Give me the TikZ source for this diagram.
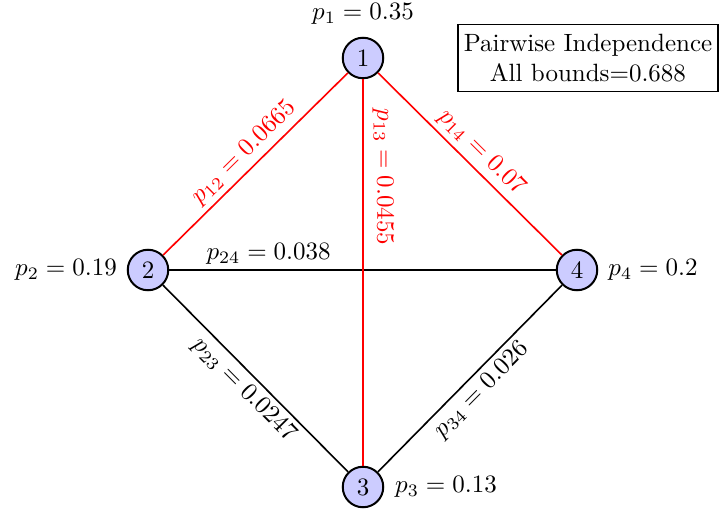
\documentclass[tikz,border=0pt]{standalone}
\begin{document}
\begin{tikzpicture}[x=0.4pt,y=-0.4pt,
  vert/.style={circle,draw,line width=0.8pt,fill=blue!20,minimum size=16.2pt,inner sep=0pt},
  redge/.style={red,line width=0.65pt},
  bedge/.style={black,line width=0.65pt},
  elab/.style={font=\normalsize,inner sep=2pt},
  infobox/.style={draw,line width=0.6pt,align=center,inner sep=2pt,minimum width=104pt,minimum height=26.8pt}]
\useasboundingbox (0,0) rectangle (720,512);
\node[vert] (n1) at (363,58) {1};
\node[vert] (n2) at (148,270) {2};
\node[vert] (n3) at (363,487) {3};
\node[vert] (n4) at (577,270) {4};
\node (l1) at (363,14) {$p_1 = 0.35$};
\node (l2) at (66,270) {$p_2 = 0.19$};
\node (l3) at (446,487) {$p_3 = 0.13$};
\node (l4) at (653,270) {$p_4 = 0.2$};
\node[infobox] (box) at (588,58) {Pairwise Independence\\All bounds=0.688};
\draw[bedge] (n2) -- (n4) node[elab,pos=0.257,above] {$p_{24} = 0.038$};
\draw[bedge] (n2) -- (n3) node[elab,midway,sloped,below] {$p_{23} = 0.0247$};
\draw[bedge] (n3) -- (n4) node[elab,midway,sloped,below] {$p_{34} = 0.026$};
\draw[redge] (n1) -- (n2) node[elab,midway,sloped,above,red] {$p_{12} = 0.0665$};
\draw[redge] (n1) -- (n4) node[elab,midway,sloped,above,red] {$p_{14} = 0.07$};
\draw[redge] (n1) -- (n3) node[elab,pos=0.253,rotate=-90,above=1.5pt,red] {$p_{13} = 0.0455$};
\end{tikzpicture}
\end{document}
